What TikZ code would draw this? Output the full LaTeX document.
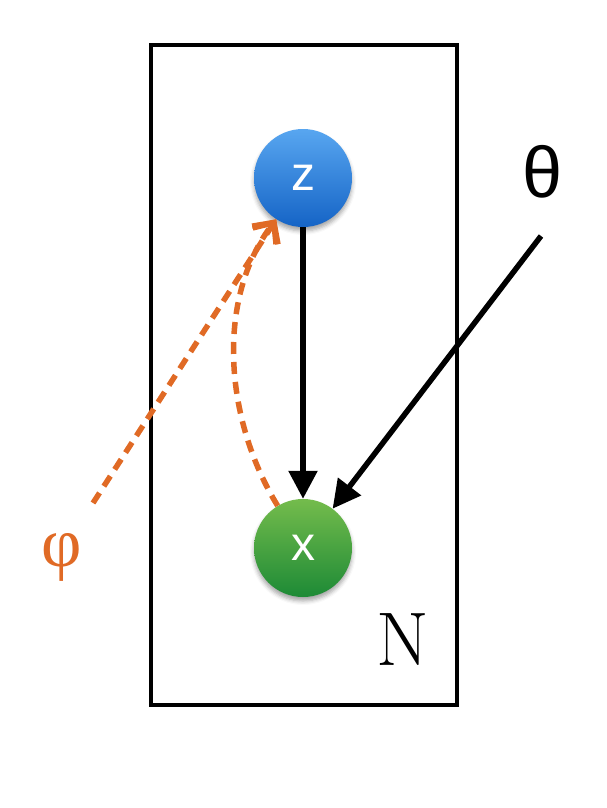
\documentclass[tikz,border=0pt]{standalone}
\usepackage{fontspec}
\newfontfamily\sansfam{Liberation Sans}
\newfontfamily\seriffam{Liberation Serif}
\usetikzlibrary{arrows.meta,shadows.blur}
\definecolor{orng}{HTML}{E06A25}
\definecolor{bluetop}{HTML}{58A6F0}
\definecolor{bluebot}{HTML}{1564C6}
\definecolor{greentop}{HTML}{74BC4C}
\definecolor{greenbot}{HTML}{1D8A36}
\tikzset{
  latent/.style={circle, minimum size=98pt, inner sep=0pt, text=white,
    font=\sansfam\fontsize{48}{48}\selectfont,
    blur shadow={shadow xshift=0pt, shadow yshift=-4pt, shadow blur radius=4pt, shadow opacity=35}},
  blk/.style={draw=black, line width=5.5pt, -{Triangle[length=28pt,width=28pt]}},
  var/.style={draw=orng, line width=5.5pt, dash pattern=on 12pt off 8pt,
    -{Straight Barb[length=16pt,width=30pt,line width=5.5pt]}},
}
\begin{document}
\begin{tikzpicture}[x=1pt,y=-1pt]
\useasboundingbox (0,0) rectangle (606,808);
\draw[line width=3.5pt] (151,45) rectangle (457,705);
\node[latent, top color=bluetop, bottom color=bluebot] (z) at (303,178) {z};
\node[latent, top color=greentop, bottom color=greenbot] (x) at (303,548) {x};
\node[font=\sansfam\fontsize{72}{72}\selectfont] (theta) at (543,172) {θ};
\node[text=orng, font=\seriffam\fontsize{70}{70}\selectfont] (phi) at (62,557) {φ};
\node[font=\fontsize{76}{76}\selectfont] (N) at (403,640) {N};
\coordinate (thetaend) at (541,236);
\coordinate (phiend) at (93,503);
\draw[blk] (z) -- (x);
\draw[blk] (thetaend) -- (x.53);
\draw[var] (phiend) -- (z.237);
\draw[var] (x.121) .. controls (225,420) and (215,300) .. (z.237);
\end{tikzpicture}
\end{document}
